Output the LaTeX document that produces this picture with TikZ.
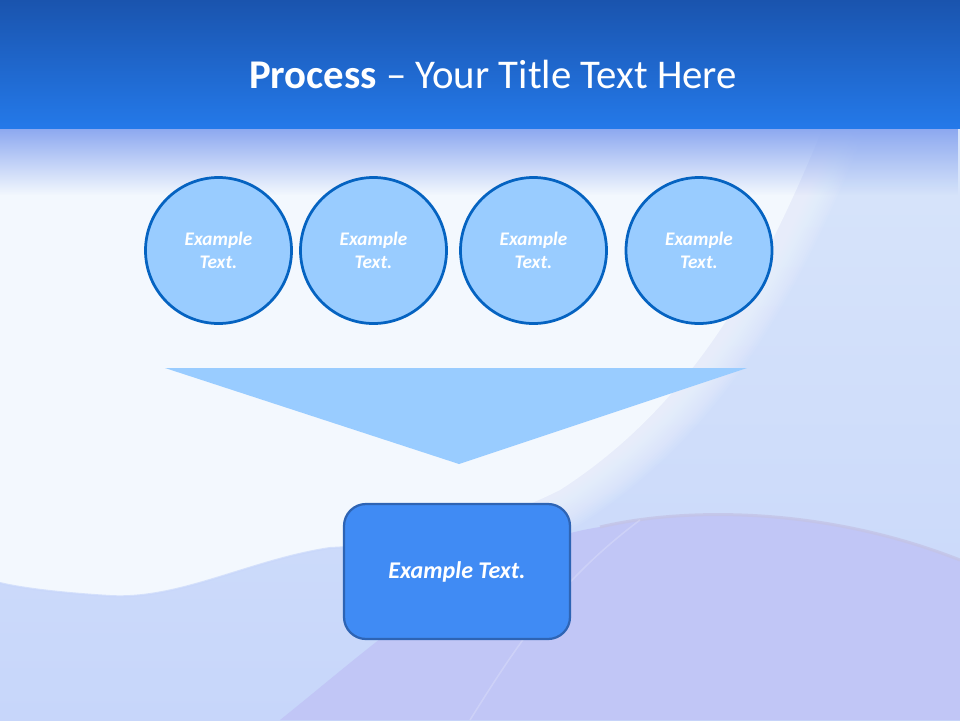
\documentclass[tikz,border=0pt]{standalone}
\usepackage{fontspec}
\setmainfont{Carlito}
\usetikzlibrary{shapes, backgrounds, fadings}

\definecolor{bandtop}{HTML}{1A54AE}
\definecolor{bandbot}{HTML}{2479E9}
\definecolor{fadetop}{HTML}{8CA8F0}
\definecolor{whitebg}{HTML}{F3F8FE}
\definecolor{paleblue}{HTML}{D8E5FA}
\definecolor{skyblue}{HTML}{C7D6FA}
\definecolor{lavender}{HTML}{C1C6F6}
\definecolor{waveedge}{HTML}{C4C4E6}
\definecolor{circfill}{HTML}{99CCFF}
\definecolor{circline}{HTML}{0563C1}
\definecolor{boxfill}{HTML}{408BF4}
\definecolor{boxline}{HTML}{2E64B4}

\begin{document}
\begin{tikzpicture}[x=1pt, y=-1pt,
    stage/.style={circle, draw=circline, line width=2.75pt, fill=circfill,
        minimum size=146pt, inner sep=0pt, align=center, text=white,
        font=\fontsize{19.2}{23}\selectfont\bfseries\itshape},
    result/.style={rectangle, rounded corners=22pt, draw=boxline, line width=2.25pt,
        fill=boxfill, minimum width=226pt, minimum height=135pt, text=white,
        font=\fontsize{24}{28}\selectfont\bfseries\itshape}]
    \useasboundingbox (0,0) rectangle (960,720);

    % Background of the slide
    \shade[top color=paleblue, bottom color=skyblue] (0,128) rectangle (960,720);
    % Soft edge of the light area
    \foreach \w in {4,8,...,80}
        \draw[whitebg, line width=\w pt, opacity=0.08]
            (830,110) .. controls (770,260) and (700,400) .. (560,490)
            .. controls (520,510) and (480,525) .. (450,532);
    % Light area on the left
    \fill[whitebg] (0,110) -- (830,110)
        .. controls (770,260) and (700,400) .. (560,490)
        .. controls (480,530) and (400,545) .. (330,548)
        .. controls (250,560) and (180,600) .. (110,596)
        .. controls (60,593) and (20,588) .. (0,583) -- cycle;
    \draw[skyblue, line width=2pt, opacity=0.7]
        (400,542) .. controls (370,546) and (350,547) .. (330,548)
        .. controls (250,560) and (180,600) .. (110,596)
        .. controls (60,593) and (20,588) .. (0,583);
    % Lavender wave at the bottom
    \fill[lavender] (280,720) .. controls (380,640) and (480,545) .. (600,527)
        .. controls (680,508) and (820,505) .. (960,560) -- (960,720) -- cycle;
    \draw[waveedge, line width=3pt, opacity=0.8]
        (600,527) .. controls (680,508) and (820,505) .. (960,560);
    \draw[white, line width=1.5pt, opacity=0.2]
        (470,720) .. controls (520,640) and (560,580) .. (640,520);
    % Fade below the title band
    \fill[fadetop, path fading=south] (0,128) rectangle (960,195);
    % Title band
    \shade[top color=bandtop, bottom color=bandbot] (0,0) rectangle (960,128);

    % Title
    \node[anchor=base, text=white, font=\fontsize{40.8}{48}\selectfont] (title) at (493,88)
        {\textbf{Process} -- Your Title Text Here};

    % Four input circles
    \node[stage] (stepA) at (218.5,250.5) {Example\\Text.};
    \node[stage] (stepB) at (373.5,250.5) {Example\\Text.};
    \node[stage] (stepC) at (533.5,250.5) {Example\\Text.};
    \node[stage] (stepD) at (699,250.5) {Example\\Text.};

    % Funnel triangle
    \coordinate (funnelL) at (165,368);
    \coordinate (funnelR) at (747,368);
    \coordinate (funnelTip) at (459,464);
    \fill[circfill] (funnelL) -- (funnelR) -- (funnelTip) -- cycle;

    % Result box
    \node[result] (outcome) at (457,571.5) {Example Text.};
\end{tikzpicture}
\end{document}
